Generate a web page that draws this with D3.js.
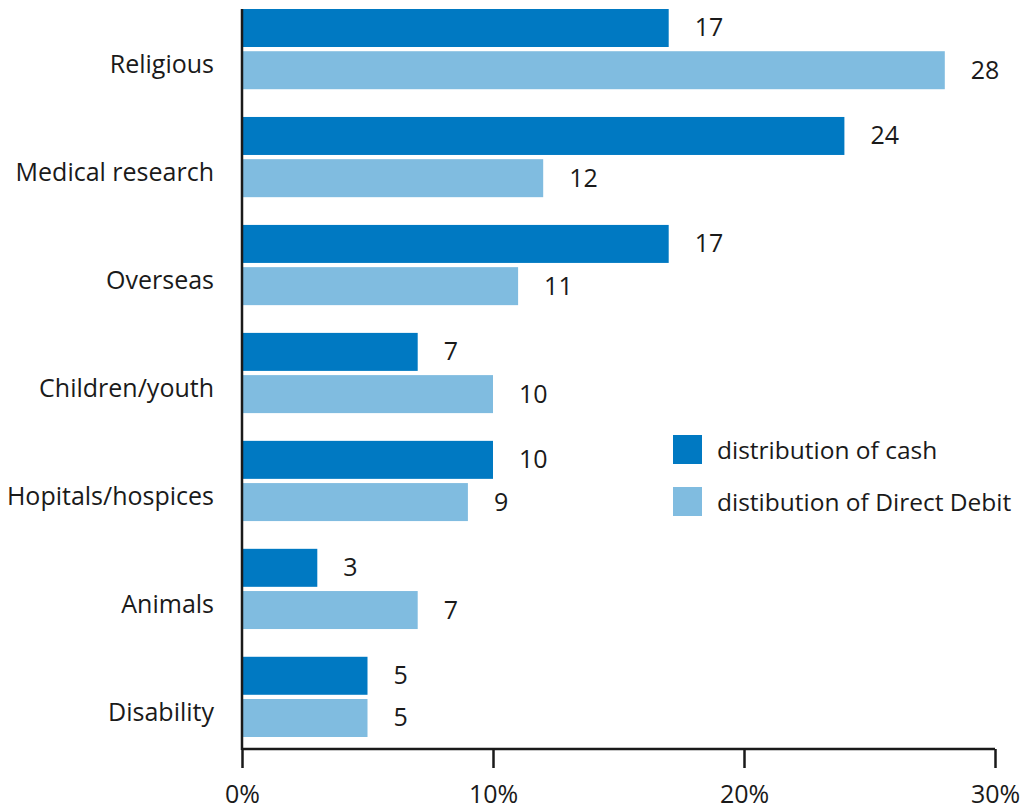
<html>
<head>
<meta charset="UTF-8">
<script src="https://d3js.org/d3.v7.min.js"></script>
<style>
    body { margin: 0; background: #fff; }
    text { font-family: "Open Sans", "Noto Sans", sans-serif; fill: #1a1a1a; }
</style>
</head>
<body>
<svg width="1031" height="811" id="canvas"></svg>
<script>
    var categories = ["Religious", "Medical research", "Overseas", "Children/youth", "Hopitals/hospices", "Animals", "Disability"];
    var cashValues = [17, 24, 17, 7, 10, 3, 5];
    var debitValues = [28, 12, 11, 10, 9, 7, 5];
    var seriesNames = ["distribution of cash", "distibution of Direct Debit"];
    var xTicks = [0, 10, 20, 30];
    var colors = ["#0079c2", "#80bce0"];

    var svg = d3.select("#canvas");
    var left = 242, right = 995, plotTop = 9, axisY = 749;

    var x = d3.scaleLinear().domain([0, 30]).range([left, right]);
    var y = d3.scaleBand().domain(categories).range([plotTop, 737]).paddingInner(0.257).paddingOuter(0).align(0);
    var ySub = d3.scaleBand().domain([0, 1]).range([0, y.bandwidth()]).paddingInner(0.1);

    var rows = categories.map(function (c, i) {
        return { cat: c, vals: [cashValues[i], debitValues[i]] };
    });

    var g = svg.selectAll(".grp").data(rows).enter().append("g")
        .attr("class", "grp")
        .attr("transform", function (d) { return "translate(0," + y(d.cat) + ")"; });

    g.selectAll("rect").data(function (d) { return d.vals; }).enter().append("rect")
        .attr("x", x(0))
        .attr("y", function (d, i) { return ySub(i); })
        .attr("width", function (d) { return x(d) - x(0); })
        .attr("height", ySub.bandwidth())
        .attr("fill", function (d, i) { return colors[i]; });

    g.selectAll(".val").data(function (d) { return d.vals; }).enter().append("text")
        .attr("class", "val")
        .attr("x", function (d) { return x(d) + 26; })
        .attr("y", function (d, i) { return ySub(i) + ySub.bandwidth() / 2; })
        .attr("dy", "0.34em")
        .attr("font-size", 25)
        .text(function (d) { return d; });

    g.append("text")
        .attr("x", 214)
        .attr("y", y.bandwidth() * 0.8)
        .attr("text-anchor", "end")
        .attr("font-size", 25)
        .text(function (d) { return d.cat; });

    // axes
    var xAxis = d3.axisBottom(x).tickValues(xTicks).tickSize(19).tickPadding(17)
        .tickFormat(function (d) { return d + "%"; });
    var ax = svg.append("g").attr("transform", "translate(0," + axisY + ")").call(xAxis);
    ax.select(".domain").attr("stroke", "#1a1a1a").attr("stroke-width", 2.5)
        .attr("d", "M" + x(0) + ",0H" + x(30));
    ax.selectAll(".tick line").attr("stroke", "#1a1a1a").attr("stroke-width", 2.5);
    ax.selectAll(".tick text").attr("font-size", 25).attr("fill", "#1a1a1a")
        .style("font-family", "'Open Sans', 'Noto Sans', sans-serif");

    svg.append("line")
        .attr("x1", x(0)).attr("x2", x(0))
        .attr("y1", plotTop).attr("y2", axisY + 1)
        .attr("stroke", "#1a1a1a").attr("stroke-width", 2.5);

    // legend
    var leg = svg.selectAll(".leg").data(seriesNames).enter().append("g")
        .attr("class", "leg")
        .attr("transform", function (d, i) { return "translate(673," + (435 + i * 52) + ")"; });
    leg.append("rect").attr("width", 29).attr("height", 29)
        .attr("fill", function (d, i) { return colors[i]; });
    leg.append("text").attr("x", 44).attr("y", 15).attr("dy", "0.36em")
        .attr("font-size", 24.5)
        .text(function (d) { return d; });
</script>
</body>
</html>
